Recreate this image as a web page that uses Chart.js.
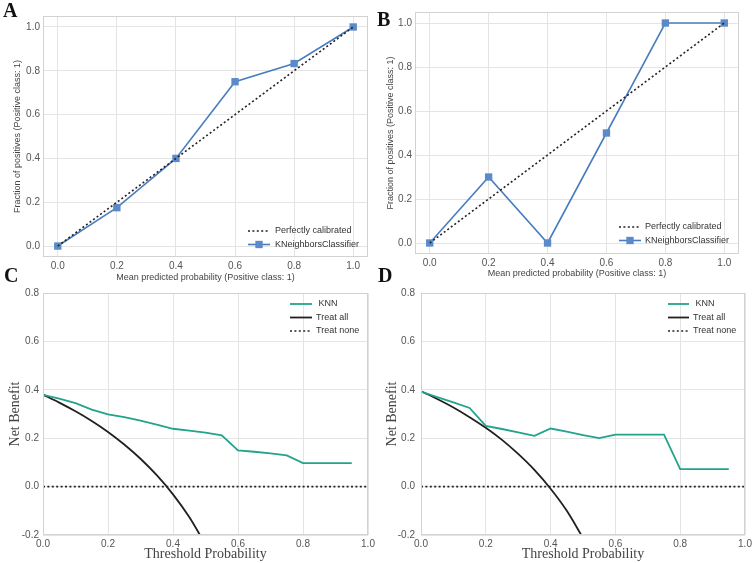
<!DOCTYPE html>
<html>
<head>
<meta charset="utf-8">
<script src="https://cdn.jsdelivr.net/npm/chart.js@4.4.1/dist/chart.umd.min.js"></script>
<style>
  html, body { margin: 0; padding: 0; background: #fff; }
  #wrap { position: relative; width: 752px; height: 563px; overflow: hidden; }
  .panel { position: absolute; }
  .tag {
    position: absolute; font: bold 20px 'Liberation Serif', 'Times New Roman', serif;
    line-height: 20px; color: #111;
  }
</style>
</head>
<body>
<div id="wrap">
  <canvas id="cA" class="panel" width="376" height="290" style="left:0;top:0"></canvas>
  <canvas id="cB" class="panel" width="376" height="284" style="left:376px;top:0"></canvas>
  <canvas id="cC" class="panel" width="376" height="280" style="left:0;top:283px"></canvas>
  <canvas id="cD" class="panel" width="376" height="280" style="left:376px;top:283px"></canvas>
  <div class="tag" style="left:3px;top:0">A</div>
  <div class="tag" style="left:377px;top:9px">B</div>
  <div class="tag" style="left:4px;top:265px">C</div>
  <div class="tag" style="left:378px;top:265px">D</div>
</div>
<script>
// ---------------------------------------------
// data
// ---------------------------------------------
const calibX   = [0, 0.2, 0.4, 0.6, 0.8, 1.0]
const calibA   = [0, 0.175, 0.4, 0.75, 0.833, 1.0]
const calibB   = [0, 0.3, 0, 0.5, 1.0, 1.0]
const perfectX = [0, 1]
const perfectY = [0, 1]

const thrKnn = [0, 0.05, 0.1, 0.15, 0.2, 0.25, 0.3, 0.35, 0.4, 0.45, 0.5, 0.55, 0.6, 0.65, 0.7, 0.75, 0.8, 0.85, 0.9, 0.95]
const knnC   = [0.379, 0.364, 0.345, 0.318, 0.298, 0.287, 0.273, 0.256, 0.239, 0.231, 0.223, 0.212, 0.150, 0.144, 0.137, 0.129, 0.097, 0.097, 0.097, 0.097]
const knnD   = [0.393, 0.370, 0.348, 0.325, 0.251, 0.238, 0.224, 0.210, 0.240, 0.227, 0.213, 0.200, 0.215, 0.215, 0.215, 0.215, 0.072, 0.072, 0.072, 0.072]

const thrAll = [0, 0.05, 0.1, 0.15, 0.2, 0.25, 0.3, 0.35, 0.4, 0.45, 0.5]
const allC   = [0.380, 0.347, 0.311, 0.271, 0.226, 0.174, 0.115, 0.047, -0.032, -0.126, -0.240]
const allD   = [0.394, 0.362, 0.327, 0.287, 0.243, 0.193, 0.135, 0.069, -0.009, -0.100, -0.212]

const noneX = [0, 1]
const noneY = [0, 0]

const ticksCalib = [0, 0.2, 0.4, 0.6, 0.8, 1.0]
const ticksThr   = [0, 0.2, 0.4, 0.6, 0.8, 1.0]
const ticksNB    = [-0.2, 0, 0.2, 0.4, 0.6, 0.8]

// ---------------------------------------------
// styles
// ---------------------------------------------
const SANS  = "'Liberation Sans', Arial, sans-serif"
const SERIF = "'Liberation Serif', 'Times New Roman', serif"
const BLUE  = '#4a7dbe'
const TEAL  = '#22a38c'
const GRID  = '#e4e4e4'
const FRAME = '#d2d2d2'

const xy = (xs, ys) => xs.map((x, i) => ({ x, y: ys[i] }))

// frame on all four sides of the plot area
const framePlugin = {
  id: 'frame',
  afterDatasetsDraw(chart) {
    const { ctx, chartArea: a } = chart
    ctx.save()
    ctx.strokeStyle = FRAME
    ctx.lineWidth = 1
    ctx.strokeRect(Math.round(a.left) + 0.5, Math.round(a.top) + 0.5,
                   Math.round(a.right - a.left) - 1, Math.round(a.bottom - a.top) - 1)
    ctx.restore()
  }
}

// legend drawn inside the plot, like matplotlib
const insetLegend = {
  id: 'insetLegend',
  afterDraw(chart, args, o) {
    if (!o || o.x == null) return
    const { ctx } = chart
    ctx.save()
    ctx.font = `${o.size || 9}px ${SANS}`
    ctx.textBaseline = 'middle'
    ctx.textAlign = 'left'
    chart.data.datasets.forEach((ds, i) => {
      const y  = o.y + i * o.row
      const x0 = o.x, x1 = o.x + o.sample
      ctx.strokeStyle = ds.borderColor
      ctx.lineWidth = ds.borderWidth
      ctx.setLineDash(ds.borderDash || [])
      ctx.beginPath(); ctx.moveTo(x0, y); ctx.lineTo(x1, y); ctx.stroke()
      ctx.setLineDash([])
      if (ds.pointRadius) {
        const s = ds.pointRadius * Math.SQRT1_2
        const cx = (x0 + x1) / 2
        ctx.fillStyle = ds.pointBackgroundColor
        ctx.fillRect(cx - s, y - s, 2 * s, 2 * s)
      }
      ctx.fillStyle = '#333'
      ctx.fillText(ds.label, x1 + o.gap, y)
    })
    ctx.restore()
  }
}

function axis(opts) {
  const { horizontal, min, max, ticks, size, pad, title, titleFont, titlePad, tickFont } = opts
  return {
    type: 'linear', min, max,
    afterBuildTicks: s => { s.ticks = ticks.map(v => ({ value: v })) },
    afterFit: s => {
      if (horizontal) { s.height = size; s.paddingLeft = 0; s.paddingRight = 0 }
      else            { s.width = size;  s.paddingTop = 0;  s.paddingBottom = 0 }
    },
    ticks: {
      color: '#555', padding: pad, autoSkip: false, maxRotation: 0,
      font: { family: SANS, size: tickFont || 10 },
      callback: v => v.toFixed(1)
    },
    grid: { color: GRID, drawTicks: false, lineWidth: 1 },
    border: { display: false },
    title: { display: true, text: title, color: '#444', font: titleFont, padding: titlePad }
  }
}

function calibChart(id, ys, p) {
  return new Chart(document.getElementById(id), {
    type: 'line',
    data: {
      datasets: [
        {
          label: 'Perfectly calibrated', data: xy(perfectX, perfectY),
          borderColor: '#222', borderWidth: 1.6, borderDash: [2, 2.4],
          pointRadius: 0, order: 1
        },
        {
          label: 'KNeighborsClassifier', data: xy(calibX, ys),
          borderColor: BLUE, borderWidth: 1.6,
          pointStyle: 'rect', pointRadius: 5.2,
          pointBackgroundColor: '#5a8bc8', pointBorderColor: '#5a8bc8', pointBorderWidth: 0,
          order: 2
        }
      ]
    },
    options: {
      responsive: false, animation: false, events: [],
      layout: { padding: p.padding },
      plugins: {
        legend: { display: false }, tooltip: { enabled: false },
        insetLegend: p.legend
      },
      scales: {
        x: axis({ horizontal: true, min: -0.05, max: 1.05, ticks: ticksCalib, size: p.xH, pad: 3,
                  title: 'Mean predicted probability (Positive class: 1)',
                  titleFont: { family: SANS, size: 9 }, titlePad: { top: 0, bottom: p.xTitlePad } }),
        y: axis({ horizontal: false, min: -0.05, max: 1.05, ticks: ticksCalib, size: p.yW, pad: 3,
                  title: 'Fraction of positives (Positive class: 1)',
                  titleFont: { family: SANS, size: 9 }, titlePad: { top: p.yTitlePad, bottom: 0 } })
      }
    },
    plugins: [framePlugin, insetLegend]
  })
}

function dcaChart(id, knn, all, p) {
  return new Chart(document.getElementById(id), {
    type: 'line',
    data: {
      datasets: [
        {
          label: ' KNN', data: xy(thrKnn, knn),
          borderColor: TEAL, borderWidth: 1.8, pointRadius: 0, clip: 0
        },
        {
          label: 'Treat all', data: xy(thrAll, all),
          borderColor: '#231f20', borderWidth: 1.8, pointRadius: 0,
          cubicInterpolationMode: 'monotone', clip: 0
        },
        {
          label: 'Treat none', data: xy(noneX, noneY),
          borderColor: '#222', borderWidth: 1.6, borderDash: [2, 2.4], pointRadius: 0, clip: 0
        }
      ]
    },
    options: {
      responsive: false, animation: false, events: [],
      layout: { padding: p.padding },
      plugins: {
        legend: { display: false }, tooltip: { enabled: false },
        insetLegend: p.legend
      },
      scales: {
        x: axis({ horizontal: true, min: 0, max: 1, ticks: ticksThr, size: 28, pad: 3,
                  title: 'Threshold Probability',
                  titleFont: { family: SERIF, size: 14 }, titlePad: { top: 0, bottom: 0 } }),
        y: axis({ horizontal: false, min: -0.2, max: 0.8, ticks: ticksNB, size: p.yW, pad: p.yPad,
                  title: 'Net Benefit',
                  titleFont: { family: SERIF, size: 14 }, titlePad: { top: p.yTitlePad, bottom: 0 } })
      }
    },
    plugins: [framePlugin, insetLegend]
  })
}

calibChart('cA', calibA, {
  padding: { top: 16, right: 8, left: 0, bottom: 0 }, xH: 33, yW: 43,
  xTitlePad: 7.1, yTitlePad: 12.6,
  legend: { x: 248, y: 231, row: 13.5, sample: 22, gap: 5, size: 9 }
})
calibChart('cB', calibB, {
  padding: { top: 12, right: 13, left: 0, bottom: 0 }, xH: 30, yW: 39,
  xTitlePad: 4.6, yTitlePad: 9,
  legend: { x: 243, y: 227, row: 13.5, sample: 22, gap: 4, size: 9 }
})
dcaChart('cC', knnC, allC, {
  padding: { top: 10, right: 8, left: 0, bottom: 0 }, yW: 43, yPad: 4, yTitlePad: 6.6,
  legend: { x: 290, y: 21, row: 13.5, sample: 22, gap: 4, size: 9 }
})
dcaChart('cD', knnD, allD, {
  padding: { top: 10, right: 7, left: 0, bottom: 0 }, yW: 45, yPad: 6, yTitlePad: 7.6,
  legend: { x: 292, y: 21, row: 13.5, sample: 21, gap: 4, size: 9 }
})
</script>
</body>
</html>
